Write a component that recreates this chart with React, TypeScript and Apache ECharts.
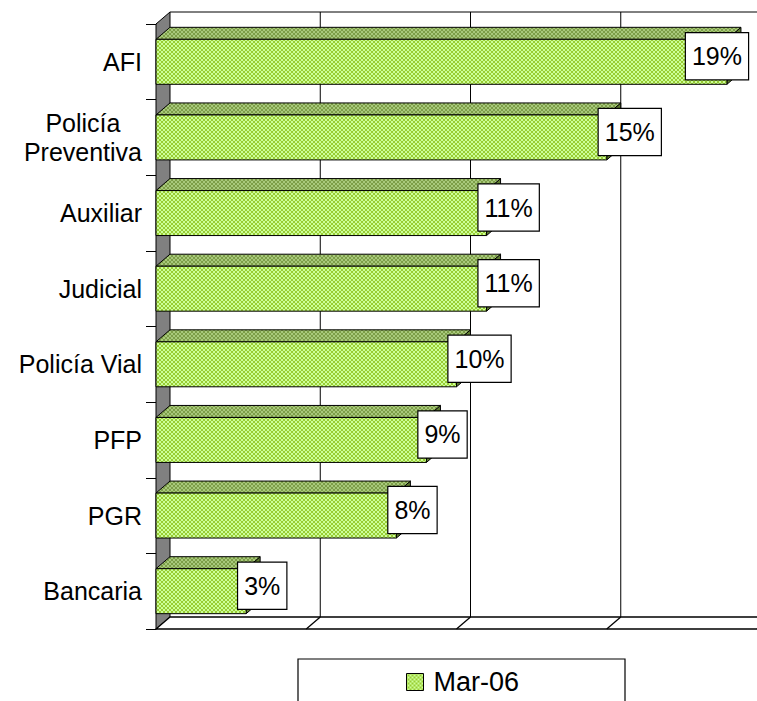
import React, { useEffect, useRef } from 'react';
import * as echarts from 'echarts';

// ---- data ----
const categories = ['AFI', 'Policía\nPreventiva', 'Auxiliar', 'Judicial', 'Policía Vial', 'PFP', 'PGR', 'Bancaria'];
const values = [19, 15, 11, 11, 10, 9, 8, 3];
const seriesName = 'Mar-06';
const axisTicks = [0, 5, 10, 15, 20];

// ---- style constants ----
const DX = 14;
const DY = -12;
const FONT = 'Arial, "Liberation Sans", sans-serif';

function makePattern(light: string, dark: string) {
  const c = document.createElement('canvas');
  c.width = 4;
  c.height = 4;
  const ctx = c.getContext('2d')!;
  ctx.fillStyle = light;
  ctx.fillRect(0, 0, 4, 4);
  ctx.fillStyle = dark;
  for (let i = 0; i < 4; i++) {
    ctx.fillRect(i, i, 1, 1);
    ctx.fillRect(3 - i, i, 1, 1);
  }
  return { image: c, repeat: 'repeat', imageWidth: 4, imageHeight: 4 } as any;
}

function measure(text: string, size: number) {
  const c = document.createElement('canvas');
  const ctx = c.getContext('2d')!;
  ctx.font = `${size}px Arial, "Liberation Sans", sans-serif`;
  return ctx.measureText(text).width;
}

export default function App() {
  const ref = useRef<HTMLDivElement>(null);

  useEffect(() => {
    if (!ref.current) return;
    const chart = echarts.init(ref.current, null, { renderer: 'svg' });
    const frontPat = makePattern('#ccff99', '#99cc33');
    const topPat = makePattern('#a8c97c', '#7d9e48');

    const option: any = {
      animation: false,
      backgroundColor: '#fff',
      grid: { left: 156, top: 24, bottom: 72, right: -1, containLabel: false },
      xAxis: { type: 'value', min: 0, max: 20, interval: 5, show: false },
      yAxis: {
        type: 'category',
        data: categories,
        inverse: true,
        axisLine: { show: true, lineStyle: { color: '#000', width: 1 } },
        axisTick: { show: true, length: 10, lineStyle: { color: '#000', width: 1 } },
        axisLabel: {
          margin: 14,
          color: '#000',
          fontSize: 25,
          fontFamily: FONT,
          lineHeight: 29,
          formatter: (v: string) =>
            v.includes('\n') ? v.split('\n').map((s) => `{c|${s}}`).join('\n') : v,
          rich: {
            c: { align: 'center', width: measure('Preventiva', 25), fontSize: 25, fontFamily: FONT, lineHeight: 29, color: '#000' },
          },
        },
        splitLine: { show: false },
      },
      legend: {
        data: [
          {
            name: seriesName,
            icon: 'rect',
            itemStyle: { color: frontPat, borderColor: '#000', borderWidth: 1 },
          },
        ],
        left: 406,
        top: 667,
        padding: 0,
        itemWidth: 17,
        itemHeight: 17,
        textStyle: { fontSize: 27, fontFamily: FONT, color: '#000', lineHeight: 30, padding: [0, 0, 0, 5] },
      },
      graphic: [
        {
          type: 'rect',
          z: 0,
          shape: { x: 298, y: 659, width: 327, height: 60 },
          style: { fill: '#fff', stroke: '#000', lineWidth: 1.2 },
        },
      ],
      series: [
        {
          type: 'custom',
          name: 'frame',
          silent: true,
          z: 1,
          data: [[0, 0]],
          renderItem: (params: any, api: any) => {
            const cs = params.coordSys;
            const L = cs.x;
            const T = cs.y;
            const B = cs.y + cs.height;
            const R = cs.x + cs.width;
            const children: any[] = [];
            children.push({
              type: 'polygon',
              shape: { points: [[L, T], [L + DX, T + DY], [L + DX, B + DY], [L, B]] },
              style: { fill: '#808080', stroke: '#000', lineWidth: 1 },
            });
            children.push({
              type: 'polygon',
              shape: { points: [[L, B], [L + DX, B + DY], [R + DX + 40, B + DY], [R + 40, B]] },
              style: { fill: '#fff', stroke: '#000', lineWidth: 1.3 },
            });
            children.push({
              type: 'line',
              shape: { x1: L + DX, y1: T + DY, x2: R + DX + 40, y2: T + DY },
              style: { stroke: '#000', lineWidth: 1 },
            });
            axisTicks.forEach((t) => {
              if (t === 0) return;
              const x = api.coord([t, 0])[0];
              children.push({
                type: 'line',
                shape: { x1: x + DX, y1: T + DY, x2: x + DX, y2: B + DY },
                style: { stroke: '#000', lineWidth: 1 },
              });
              children.push({
                type: 'line',
                shape: { x1: x, y1: B, x2: x + DX, y2: B + DY },
                style: { stroke: '#000', lineWidth: 1.3 },
              });
            });
            return { type: 'group', children };
          },
          clip: false,
        },
        {
          type: 'custom',
          name: seriesName,
          z: 2,
          itemStyle: { color: frontPat },
          encode: { x: 0, y: 1 },
          data: values.map((v, i) => [v, i]),
          renderItem: (params: any, api: any) => {
            const v = api.value(0);
            const i = api.value(1);
            const [x1, yc] = api.coord([v, i]);
            const x0 = api.coord([0, i])[0];
            const h = api.size([0, 1])[1] * 0.595;
            const yt = yc - h / 2;
            const yb = yc + h / 2;
            const text = `${v}%`;
            const boxW = measure(text, 25) + 12;
            const lx = Math.min(x1 - 8, api.getWidth() - 9 - boxW);
            return {
              type: 'group',
              children: [
                {
                  type: 'polygon',
                  shape: { points: [[x1, yt], [x1 + DX, yt + DY], [x1 + DX, yb + DY], [x1, yb]] },
                  style: { fill: '#5f7d31', stroke: '#000', lineWidth: 1 },
                },
                {
                  type: 'polygon',
                  shape: { points: [[x0, yt], [x0 + DX, yt + DY], [x1 + DX, yt + DY], [x1, yt]] },
                  style: { fill: topPat, stroke: '#000', lineWidth: 1 },
                },
                {
                  type: 'rect',
                  shape: { x: x0, y: yt, width: x1 - x0, height: h },
                  style: { fill: frontPat, stroke: '#000', lineWidth: 1 },
                },
                {
                  type: 'text',
                  x: lx,
                  y: yc - 5.5,
                  style: {
                    text,
                    font: `25px ${FONT}`,
                    fill: '#000',
                    align: 'left',
                    verticalAlign: 'middle',
                    lineHeight: 28,
                    backgroundColor: '#fff',
                    borderColor: '#000',
                    borderWidth: 1.2,
                    padding: [9, 6, 9, 6],
                  },
                },
              ],
            };
          },
          clip: false,
        },
      ],
    };
    chart.setOption(option);
    return () => chart.dispose();
  }, []);

  return (
    <div
      ref={ref}
      style={{ position: 'fixed', left: 0, top: 0, width: 757, height: 701, background: '#fff' }}
    />
  );
}
